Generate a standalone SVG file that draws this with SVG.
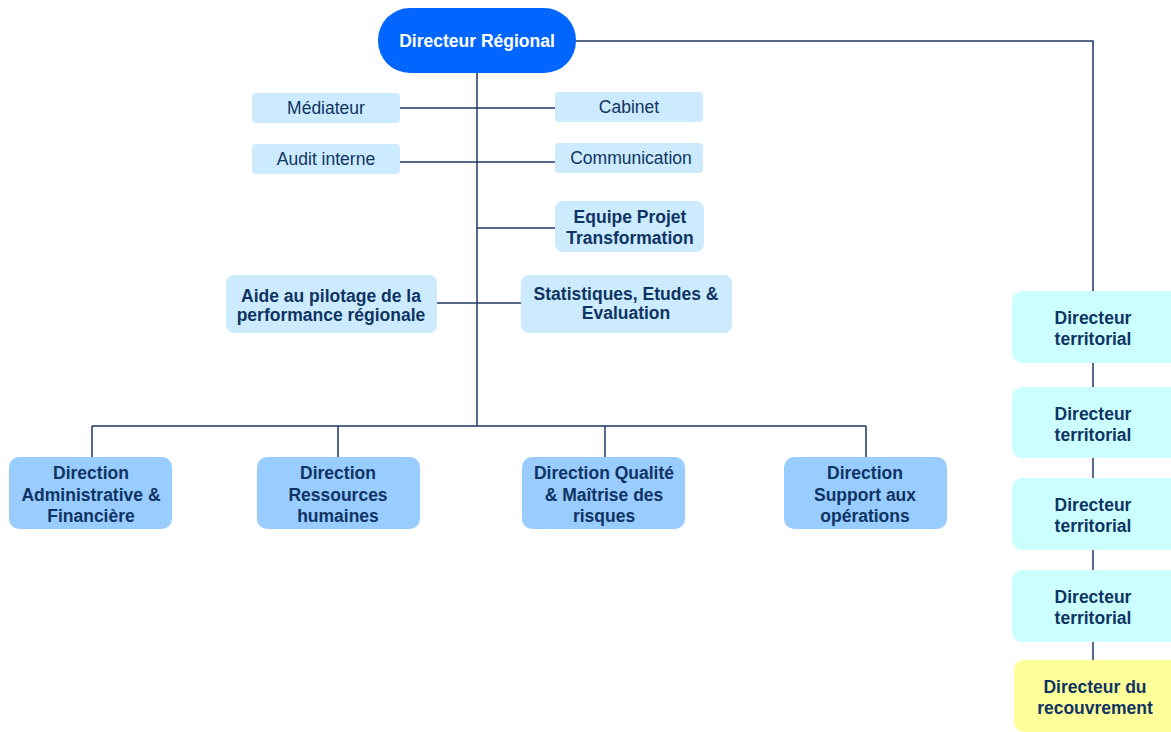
<svg xmlns="http://www.w3.org/2000/svg" width="1171" height="732" viewBox="0 0 1171 732">
<style>
text{font-family:"Liberation Sans",Arial,sans-serif;font-size:17.5px;fill:#0F3463;text-anchor:middle}
.b{font-weight:bold}
.lt{fill:#CCEBFE}
.md{fill:#99CCFF}
.cy{fill:#CCFFFF}
.yl{fill:#FFFF99}
.ln{stroke:#1E3A64;stroke-width:1.5;fill:none}
</style>
<rect width="1171" height="732" fill="#fff"/>
<g id="connectors">
<path class="ln" d="M477 73V426M400 108H555M400 162H555M477 228H555M437 303H521M92 426H866M92 426V457M338 426V457M605 426V457M866 426V457M576 41H1093V291M1093 363V387M1093 458V478M1093 550V570M1093 642V660"/>
</g>
<g id="dr"><rect x="378" y="8" width="198" height="65" rx="32" fill="#0066FF"/><text x="477" y="47" class="b" style="fill:#fff">Directeur Régional</text></g>
<g id="mediateur"><rect class="lt" x="252" y="93" width="148" height="30" rx="4"/><text x="326" y="114">Médiateur</text></g>
<g id="cabinet"><rect class="lt" x="555" y="92" width="148" height="30" rx="4"/><text x="629" y="113">Cabinet</text></g>
<g id="audit"><rect class="lt" x="252" y="144" width="148" height="30" rx="4"/><text x="326" y="165">Audit interne</text></g>
<g id="communication"><rect class="lt" x="555" y="143" width="148" height="30" rx="4"/><text x="631" y="164">Communication</text></g>
<g id="equipe"><rect class="lt" x="555" y="201" width="149" height="51" rx="8"/><text x="630" y="223" class="b">Equipe Projet</text><text x="630" y="244" class="b">Transformation</text></g>
<g id="aide"><rect class="lt" x="226" y="275" width="211" height="58" rx="8"/><text x="331" y="302" class="b">Aide au pilotage de la</text><text x="331" y="321" class="b">performance régionale</text></g>
<g id="stats"><rect class="lt" x="521" y="275" width="211" height="58" rx="8"/><text x="626" y="300" class="b">Statistiques, Etudes &amp;</text><text x="626" y="319" class="b">Evaluation</text></g>
<g id="daf"><rect class="md" x="9" y="457" width="163" height="72" rx="10"/><text x="91" y="479" class="b">Direction</text><text x="91" y="501" class="b">Administrative &amp;</text><text x="91" y="522" class="b">Financière</text></g>
<g id="drh"><rect class="md" x="257" y="457" width="163" height="72" rx="10"/><text x="338" y="479" class="b">Direction</text><text x="338" y="501" class="b">Ressources</text><text x="338" y="522" class="b">humaines</text></g>
<g id="dqm"><rect class="md" x="522" y="457" width="163" height="72" rx="10"/><text x="604" y="479" class="b">Direction Qualité</text><text x="604" y="501" class="b">&amp; Maîtrise des</text><text x="604" y="522" class="b">risques</text></g>
<g id="dso"><rect class="md" x="784" y="457" width="163" height="72" rx="10"/><text x="865" y="479" class="b">Direction</text><text x="865" y="501" class="b">Support aux</text><text x="865" y="522" class="b">opérations</text></g>
<g id="dt1"><rect class="cy" x="1012" y="291" width="170" height="72" rx="10"/><text x="1093" y="324" class="b">Directeur</text><text x="1093" y="345" class="b">territorial</text></g>
<g id="dt2"><rect class="cy" x="1012" y="387" width="170" height="71" rx="10"/><text x="1093" y="420" class="b">Directeur</text><text x="1093" y="441" class="b">territorial</text></g>
<g id="dt3"><rect class="cy" x="1012" y="478" width="170" height="72" rx="10"/><text x="1093" y="511" class="b">Directeur</text><text x="1093" y="532" class="b">territorial</text></g>
<g id="dt4"><rect class="cy" x="1012" y="570" width="170" height="72" rx="10"/><text x="1093" y="603" class="b">Directeur</text><text x="1093" y="624" class="b">territorial</text></g>
<g id="drec"><rect class="yl" x="1014" y="660" width="170" height="72" rx="10"/><text x="1095" y="693" class="b">Directeur du</text><text x="1095" y="714" class="b">recouvrement</text></g>
</svg>
